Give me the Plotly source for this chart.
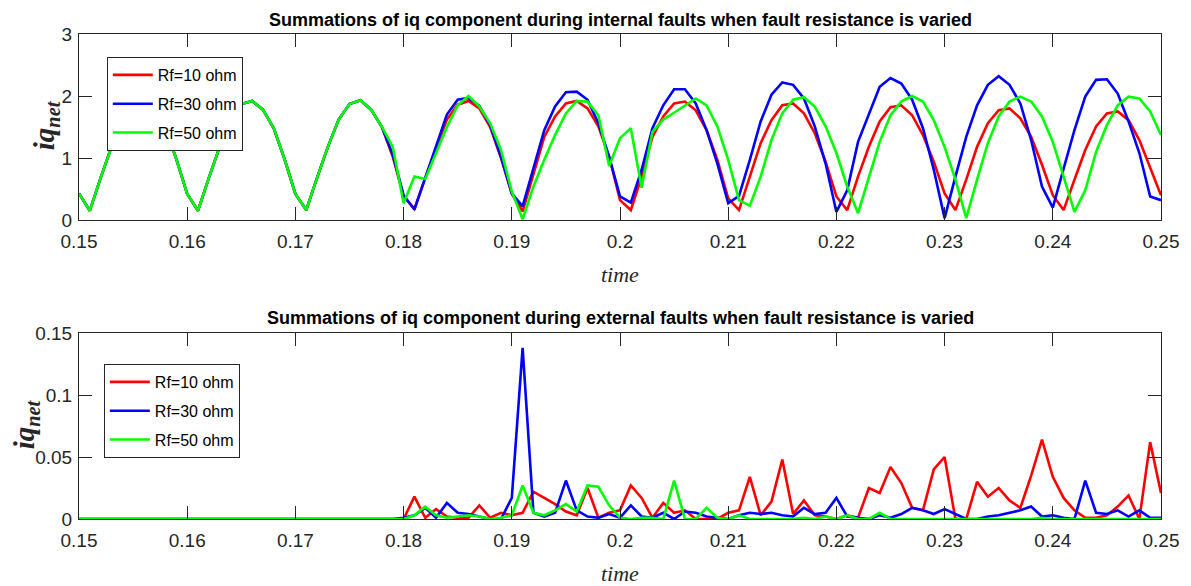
import plotly.graph_objects as go
from plotly.subplots import make_subplots

# time samples (s)
time = [round(0.150 + 0.001 * i, 3) for i in range(101)]

series_names = ["Rf=10 ohm", "Rf=30 ohm", "Rf=50 ohm"]
series_colors = ["#ff0000", "#0000ff", "#00ff00"]

# ---------------- internal faults (top) ----------------
int_rf10 = [0.43, 0.15, 0.68, 1.18, 1.62, 1.87, 1.92, 1.78, 1.48, 0.98,
            0.42, 0.15, 0.68, 1.18, 1.62, 1.87, 1.92, 1.78, 1.48, 0.98,
            0.42, 0.16, 0.68, 1.18, 1.62, 1.87, 1.93, 1.78, 1.50, 1.02,
            0.38, 0.18, 0.68, 1.15, 1.62, 1.86, 1.92, 1.80, 1.50, 1.00,
            0.42, 0.14, 0.75, 1.34, 1.67, 1.88, 1.92, 1.80, 1.51, 1.02,
            0.32, 0.16, 0.70, 1.34, 1.67, 1.88, 1.91, 1.77, 1.45, 0.97,
            0.35, 0.16, 0.70, 1.24, 1.61, 1.85, 1.88, 1.72, 1.40, 0.94,
            0.38, 0.16, 0.70, 1.18, 1.59, 1.82, 1.85, 1.69, 1.37, 0.94,
            0.43, 0.16, 0.65, 1.18, 1.56, 1.77, 1.80, 1.64, 1.34, 0.89,
            0.40, 0.16, 0.65, 1.13, 1.51, 1.72, 1.75, 1.61, 1.29, 0.86,
            0.40]
int_rf30 = [0.43, 0.15, 0.68, 1.18, 1.62, 1.87, 1.92, 1.78, 1.48, 0.98,
            0.42, 0.15, 0.68, 1.18, 1.62, 1.87, 1.92, 1.78, 1.48, 0.98,
            0.42, 0.16, 0.68, 1.18, 1.62, 1.87, 1.93, 1.78, 1.50, 1.05,
            0.40, 0.17, 0.68, 1.20, 1.70, 1.94, 1.97, 1.84, 1.53, 1.02,
            0.43, 0.22, 0.85, 1.45, 1.83, 2.06, 2.07, 1.94, 1.56, 1.02,
            0.38, 0.28, 0.81, 1.48, 1.85, 2.11, 2.11, 1.88, 1.45, 0.91,
            0.27, 0.39, 0.97, 1.59, 2.02, 2.22, 2.18, 1.96, 1.51, 0.91,
            0.13, 0.48, 1.26, 1.72, 2.15, 2.29, 2.20, 1.94, 1.48, 0.81,
            0.03, 0.70, 1.34, 1.85, 2.18, 2.32, 2.18, 1.88, 1.29, 0.54,
            0.20, 0.83, 1.45, 1.99, 2.26, 2.27, 2.04, 1.59, 1.08, 0.38,
            0.32]
int_rf50 = [0.43, 0.15, 0.68, 1.18, 1.62, 1.87, 1.92, 1.78, 1.48, 0.98,
            0.42, 0.15, 0.68, 1.18, 1.62, 1.87, 1.92, 1.78, 1.48, 0.98,
            0.42, 0.16, 0.68, 1.18, 1.62, 1.87, 1.93, 1.78, 1.50, 1.18,
            0.27, 0.70, 0.66, 1.08, 1.50, 1.85, 2.00, 1.83, 1.56, 1.13,
            0.46, 0.01, 0.54, 0.97, 1.37, 1.72, 1.92, 1.91, 1.69, 0.87,
            1.32, 1.48, 0.52, 1.42, 1.62, 1.73, 1.84, 1.96, 1.85, 1.51,
            0.97, 0.32, 0.23, 0.70, 1.29, 1.72, 1.94, 1.98, 1.83, 1.51,
            1.08, 0.54, 0.11, 0.70, 1.26, 1.69, 1.91, 2.00, 1.91, 1.61,
            1.18, 0.65, 0.03, 0.65, 1.24, 1.67, 1.91, 1.99, 1.91, 1.67,
            1.26, 0.70, 0.13, 0.48, 1.10, 1.53, 1.85, 1.99, 1.96, 1.75,
            1.37]

# ---------------- external faults (bottom) ----------------
ext_rf10 = [0, 0, 0, 0, 0, 0, 0, 0, 0, 0,
            0, 0, 0, 0, 0, 0, 0, 0, 0, 0,
            0, 0, 0, 0, 0, 0, 0, 0, 0, 0,
            0.000, 0.018, 0.001, 0.008, 0.002, 0.001, 0.001, 0.011, 0.001, 0.005,
            0.003, 0.005, 0.022, 0.017, 0.012, 0.006, 0.003, 0.025, 0.001, 0.005,
            0.007, 0.027, 0.017, 0.001, 0.013, 0.005, 0.007, 0.000, 0.000, 0.000,
            0.005, 0.007, 0.034, 0.003, 0.014, 0.048, 0.004, 0.015, 0.003, 0.002,
            0.000, 0.003, 0.001, 0.025, 0.021, 0.042, 0.029, 0.009, 0.007, 0.040,
            0.050, 0.000, 0.000, 0.030, 0.018, 0.025, 0.015, 0.009, 0.035, 0.064,
            0.034, 0.017, 0.007, 0.001, 0.001, 0.003, 0.010, 0.019, 0.000, 0.062,
            0.021]
ext_rf30 = [0, 0, 0, 0, 0, 0, 0, 0, 0, 0,
            0, 0, 0, 0, 0, 0, 0, 0, 0, 0,
            0, 0, 0, 0, 0, 0, 0, 0, 0, 0,
            0.001, 0.003, 0.009, 0.001, 0.013, 0.005, 0.004, 0.002, 0.000, 0.000,
            0.017, 0.138, 0.005, 0.002, 0.005, 0.031, 0.007, 0.002, 0.001, 0.004,
            0.001, 0.011, 0.002, 0.001, 0.005, 0.000, 0.006, 0.005, 0.002, 0.001,
            0.000, 0.003, 0.005, 0.004, 0.005, 0.003, 0.002, 0.009, 0.004, 0.005,
            0.017, 0.002, 0.001, 0.000, 0.003, 0.001, 0.004, 0.009, 0.007, 0.004,
            0.008, 0.004, 0.000, 0.000, 0.002, 0.003, 0.005, 0.007, 0.010, 0.002,
            0.003, 0.001, 0.000, 0.031, 0.005, 0.004, 0.007, 0.002, 0.007, 0.001,
            0.001]
ext_rf50 = [0, 0, 0, 0, 0, 0, 0, 0, 0, 0,
            0, 0, 0, 0, 0, 0, 0, 0, 0, 0,
            0, 0, 0, 0, 0, 0, 0, 0, 0, 0,
            0.000, 0.003, 0.010, 0.003, 0.001, 0.002, 0.003, 0.002, 0.000, 0.001,
            0.003, 0.027, 0.005, 0.003, 0.007, 0.012, 0.006, 0.027, 0.026, 0.011,
            0.001, 0.000, 0.001, 0.001, 0.000, 0.031, 0.000, 0.000, 0.009, 0.001,
            0.000, 0.003, 0.000, 0.000, 0.000, 0.000, 0.000, 0.001, 0.000, 0.002,
            0.000, 0.003, 0.000, 0.000, 0.005, 0.000, 0.000, 0.000, 0.000, 0.000,
            0.000, 0.000, 0.000, 0.000, 0.000, 0.000, 0.000, 0.000, 0.000, 0.001,
            0.000, 0.000, 0.000, 0.000, 0.000, 0.000, 0.000, 0.000, 0.000, 0.000,
            0.000]

x_ticks = [0.15, 0.16, 0.17, 0.18, 0.19, 0.2, 0.21, 0.22, 0.23, 0.24, 0.25]
x_ticklabels = ["0.15", "0.16", "0.17", "0.18", "0.19", "0.2", "0.21", "0.22", "0.23", "0.24", "0.25"]
top_yticks = [0, 1, 2, 3]
bot_yticks = [0, 0.05, 0.1, 0.15]
bot_yticklabels = ["0", "0.05", "0.1", "0.15"]

title_top = "Summations of iq component during internal faults when fault resistance is varied"
title_bot = "Summations of iq component during external faults when fault resistance is varied"

W, H = 1191, 586
ML, MR, MT, MB = 79, 23, 34, 67
plot_h = H - MT - MB

def py(pix):
    return (H - MB - pix) / plot_h

def px(pix):
    return (pix - ML) / (W - ML - MR)

fig = make_subplots(rows=2, cols=1, vertical_spacing=0.0)

AX = "#262626"
SANS = "Liberation Sans, Arial, sans-serif"
SERIF = "Liberation Serif, Times New Roman, serif"

for vals, name, col in zip([int_rf10, int_rf30, int_rf50], series_names, series_colors):
    fig.add_trace(go.Scatter(x=time, y=vals, mode="lines", name=name,
                             line=dict(color=col, width=2.6), legend="legend",
                             legendgroup="t" + name), row=1, col=1)
for vals, name, col in zip([ext_rf10, ext_rf30, ext_rf50], series_names, series_colors):
    fig.add_trace(go.Scatter(x=time, y=vals, mode="lines", name=name,
                             line=dict(color=col, width=2.6), legend="legend2",
                             legendgroup="b" + name), row=2, col=1)

axis_common = dict(showline=True, linecolor=AX, linewidth=1, mirror="ticks",
                   ticks="inside", ticklen=13, tickcolor=AX, tickwidth=1,
                   showgrid=False, zeroline=False,
                   tickfont=dict(family=SANS, size=19, color=AX))

fig.update_xaxes(range=[0.15, 0.25], tickvals=x_ticks, ticktext=x_ticklabels,
                 ticklabelstandoff=4, **axis_common)
fig.update_yaxes(ticklabelstandoff=2, **axis_common)
fig.update_layout(
    xaxis=dict(domain=[0, 1], anchor="y"),
    xaxis2=dict(domain=[0, 1], anchor="y2"),
    yaxis=dict(domain=[py(220), 1.0], range=[0, 3], tickvals=top_yticks),
    yaxis2=dict(domain=[0.0, py(333)], range=[0, 0.15], tickvals=bot_yticks, ticktext=bot_yticklabels),
)

leg_common = dict(bgcolor="white", bordercolor=AX, borderwidth=1,
                  font=dict(family=SANS, size=16, color="black"),
                  xanchor="left", yanchor="top", tracegroupgap=5,
                  itemwidth=40)
fig.update_layout(
    legend=dict(x=px(107), y=py(57), **leg_common),
    legend2=dict(x=px(104), y=py(364), **leg_common),
)

ann = []
ann.append(dict(text="<b>" + title_top + "</b>", x=0.5, y=py(20), xref="paper", yref="paper",
                showarrow=False, xanchor="center", yanchor="middle",
                font=dict(family=SANS, size=18, color="black")))
ann.append(dict(text="<b>" + title_bot + "</b>", x=0.5, y=py(318), xref="paper", yref="paper",
                showarrow=False, xanchor="center", yanchor="middle",
                font=dict(family=SANS, size=18, color="black")))
for ypix in (274, 573):
    ann.append(dict(text="<i>time</i>", x=0.5, y=py(ypix), xref="paper", yref="paper",
                    showarrow=False, xanchor="center", yanchor="middle",
                    font=dict(family=SERIF, size=22, color=AX)))
for xpix, ypix in ((46, 125), (26, 424)):
    ann.append(dict(text="<b><i>iq</i></b><sub><b><i>net</i></b></sub>", x=px(xpix), y=py(ypix),
                    xref="paper", yref="paper", textangle=-90,
                    showarrow=False, xanchor="center", yanchor="middle",
                    font=dict(family=SERIF, size=29, color=AX)))

fig.update_layout(
    width=W, height=H,
    margin=dict(l=ML, r=MR, t=MT, b=MB),
    paper_bgcolor="white", plot_bgcolor="white",
    showlegend=True,
    annotations=ann,
)

fig.write_html("out.html")
